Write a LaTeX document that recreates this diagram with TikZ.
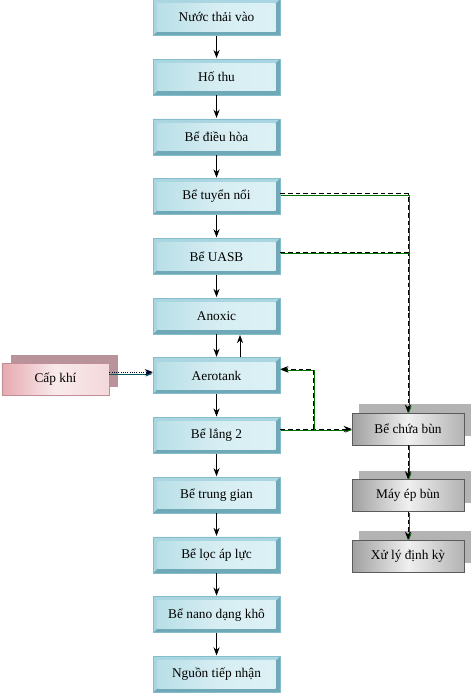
\documentclass[tikz,border=0pt]{standalone}
\usepackage{fontspec}
\setmainfont{Liberation Serif}
\usepackage{tikz}
\usetikzlibrary{arrows.meta, positioning, calc, shadows}
\usepackage{xcolor}

\definecolor{tankFaceA}{HTML}{B9DFE7}
\definecolor{tankFaceB}{HTML}{DDF1F5}
\definecolor{tankLight}{HTML}{A9D6E0}
\definecolor{tankDark}{HTML}{6FA8B7}
\definecolor{tankEdge}{HTML}{86BDCA}
\definecolor{airFace}{HTML}{E6A9B0}
\definecolor{airShadow}{HTML}{B8939A}
\definecolor{airEdge}{HTML}{C28E96}
\definecolor{mudShadow}{HTML}{B3B3B3}
\definecolor{mudEdge}{HTML}{5A5A5A}

\begin{document}
\begin{tikzpicture}[
  font=\fontsize{10}{12}\selectfont,
  >=Stealth,
  tank/.style={
    rectangle, draw=tankEdge, minimum width=95pt, minimum height=27pt,
    inner sep=0pt, align=center,
    path picture={
      \fill[tankDark] (path picture bounding box.south west) rectangle (path picture bounding box.north east);
      \fill[tankLight] (path picture bounding box.south west) -- (path picture bounding box.north west)
        -- (path picture bounding box.north east) -- ([shift={(-3.2pt,-3.2pt)}]path picture bounding box.north east)
        -- ([shift={(3.2pt,-3.2pt)}]path picture bounding box.north west) -- ([shift={(3.2pt,3.2pt)}]path picture bounding box.south west) -- cycle;
      \shade[left color=tankFaceA, right color=tankFaceB, middle color=tankFaceB!80!tankFaceA]
        ([shift={(3.2pt,3.2pt)}]path picture bounding box.south west) rectangle ([shift={(-3.2pt,-3.2pt)}]path picture bounding box.north east);
    }
  },
  airbox/.style={
    rectangle, draw=airEdge, minimum width=80.25pt, minimum height=24pt,
    left color=airFace, right color=airFace!45, middle color=airFace!25,
    drop shadow={shadow xshift=6.75pt, shadow yshift=6pt, fill=airShadow, opacity=1}
  },
  mudbox/.style={
    rectangle, draw=mudEdge, minimum width=84pt, minimum height=24pt,
    left color=gray!75, right color=gray!60, middle color=gray!12,
    drop shadow={shadow xshift=5pt, shadow yshift=6.5pt, fill=mudShadow, opacity=1}
  },
  flow/.style={->, black, line width=0.7pt, shorten >=0.5pt},
  sludge/.style={black, dashed, dash pattern=on 3.6pt off 2.2pt, line width=0.7pt,
    preaction={draw=green!45!black, transform canvas={shift={(0.7pt,-0.7pt)}}}},
  air/.style={->, draw=black!85!blue, densely dotted, line width=0.7pt,
    preaction={draw=teal!70!black, transform canvas={yshift=-1.3pt}}}
]
\useasboundingbox (0,0) rectangle (354pt,-523.5pt);

% Main treatment line
\node[tank] (vao) at (162.4pt,-13pt) {Nước thải vào};
\node[tank, below=17.4pt of vao] (hothu) {Hố thu};
\node[tank, below=17.4pt of hothu] (dieuhoa) {Bể điều hòa};
\node[tank, below=17.4pt of dieuhoa] (tuyen) {Bể tuyển nổi};
\node[tank, below=17.4pt of tuyen] (uasb) {Bể UASB};
\node[tank, below=17.4pt of uasb] (anoxic) {Anoxic};
\node[tank, below=17.4pt of anoxic] (aero) {Aerotank};
\node[tank, below=17.4pt of aero] (lang) {Bể lắng 2};
\node[tank, below=17.4pt of lang] (trunggian) {Bể trung gian};
\node[tank, below=17.4pt of trunggian] (loc) {Bể lọc áp lực};
\node[tank, below=17.4pt of loc] (nano) {Bể nano dạng khô};
\node[tank, below=17.4pt of nano] (nguon) {Nguồn tiếp nhận};

% Air supply
\node[airbox] (khi) at (41.6pt,-284.6pt) {Cấp khí};

% Sludge line
\node[mudbox] (chua) at (306pt,-321.75pt) {Bể chứa bùn};
\node[mudbox, below=25.5pt of chua] (mayep) {Máy ép bùn};
\node[mudbox, below=21pt of mayep] (xuly) {Xử lý định kỳ};

% Flow arrows
\draw[flow] (vao) -- (hothu);
\draw[flow] (hothu) -- (dieuhoa);
\draw[flow] (dieuhoa) -- (tuyen);
\draw[flow] (tuyen) -- (uasb);
\draw[flow] (uasb) -- (anoxic);
\draw[flow] (anoxic) -- (aero);
\draw[flow] ([xshift=17.6pt]aero.north) -- ([xshift=17.6pt]anoxic.south);
\draw[flow] (aero) -- (lang);
\draw[flow] (lang) -- (trunggian);
\draw[flow] (trunggian) -- (loc);
\draw[flow] (loc) -- (nano);
\draw[flow] (nano) -- (nguon);

\draw[air] ([yshift=5.5pt]khi.east) -- ([yshift=5.5pt]khi.east -| aero.west);

% Sludge pipes
\draw[sludge, ->] ([yshift=2pt]tuyen.east) -| (chua.north);
\draw[sludge] ([yshift=3pt]uasb.east) -- ([yshift=3pt]uasb.east -| chua.north);
\draw[sludge, ->] (lang.east |- chua.west) -- (chua.west);
\coordinate (split) at ($(lang.east |- chua.west)+(24.75pt,0)$);
\draw[sludge, ->] (split) |- ([yshift=4.9pt]aero.east);
\draw[sludge, ->] (chua) -- (mayep);
\draw[sludge, ->] (mayep) -- (xuly);

\end{tikzpicture}
\end{document}
